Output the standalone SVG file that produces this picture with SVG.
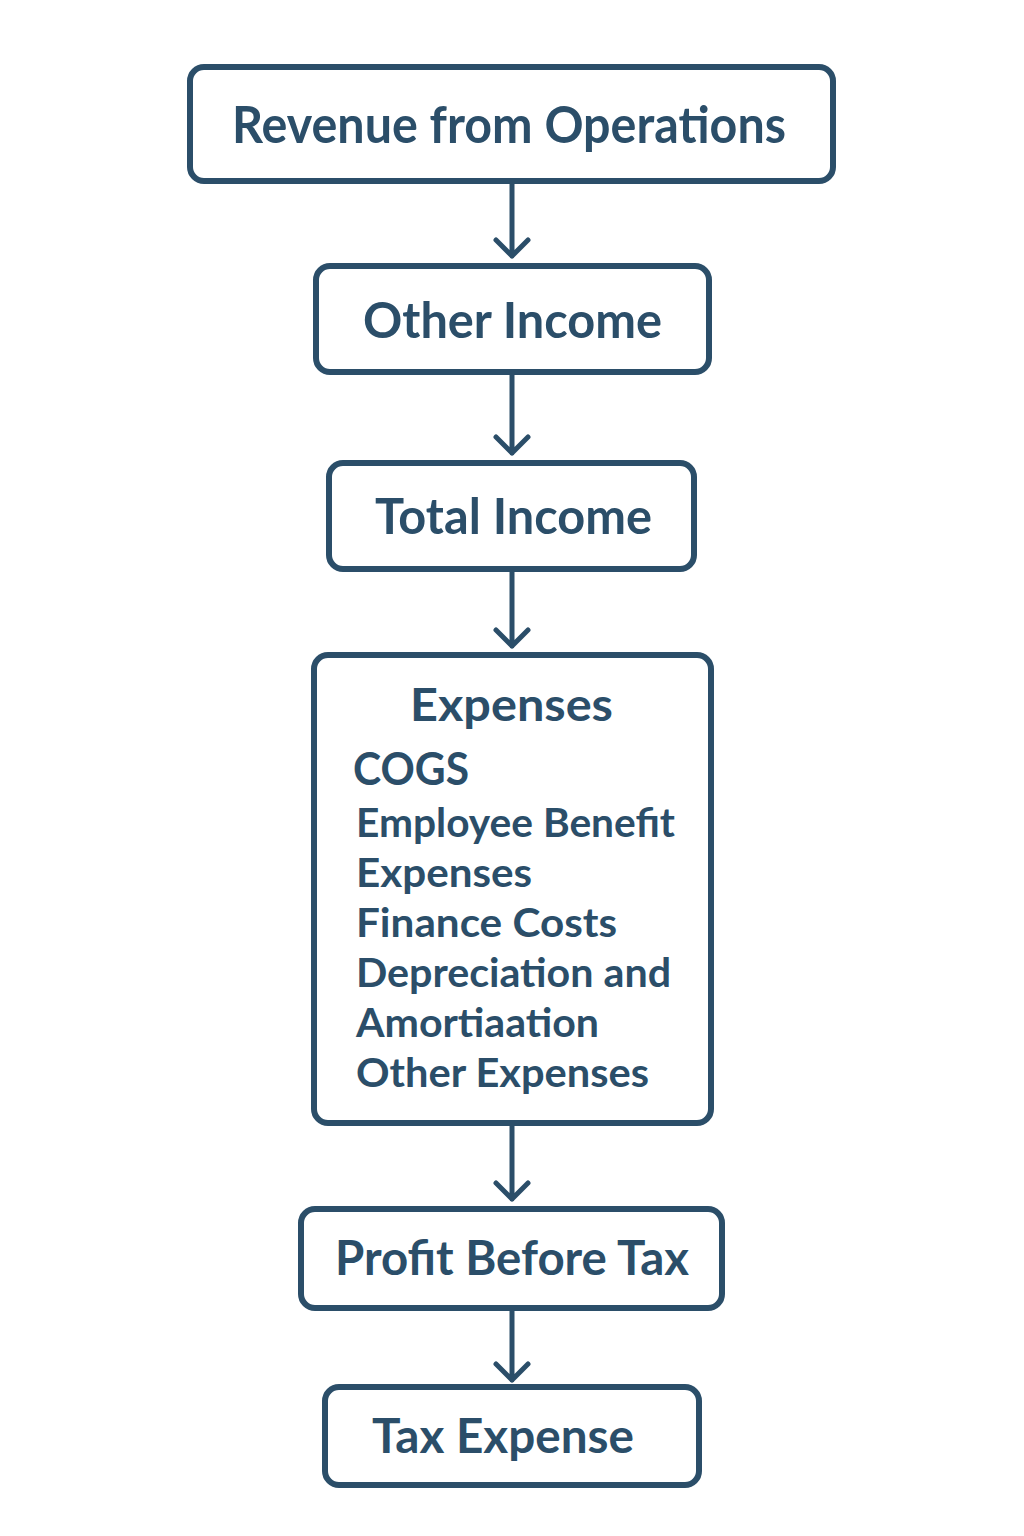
<svg xmlns="http://www.w3.org/2000/svg" width="1024" height="1536" viewBox="0 0 1024 1536">
<style>
.box{fill:#ffffff;stroke:#2b4e69;stroke-width:6}
.lbl{font-family:Lato,"Noto Sans","Liberation Sans",sans-serif;font-weight:700;fill:#2b4e69}
.c{text-anchor:middle}
.con{stroke:#2b4e69;stroke-width:5;fill:none;stroke-linecap:round;stroke-linejoin:round}
</style>
<rect width="1024" height="1536" fill="#ffffff"/>
<g id="connectors">
<path class="con" d="M512 182 V256 M496 240 L512 256 L528 240"/>
<path class="con" d="M512 373 V453 M496 437 L512 453 L528 437"/>
<path class="con" d="M512 570 V646 M496 630 L512 646 L528 630"/>
<path class="con" d="M512 1125 V1199 M496 1183 L512 1199 L528 1183"/>
<path class="con" d="M512 1309 V1380 M496 1364 L512 1380 L528 1364"/>
</g>
<g id="revenue">
<rect class="box" x="190" y="67" width="643" height="114" rx="14"/>
<text class="lbl" x="232" y="143" font-size="52" textLength="554" lengthAdjust="spacingAndGlyphs">Revenue from Operations</text>
</g>
<g id="other-income">
<rect class="box" x="316" y="266" width="393" height="106" rx="14"/>
<text class="lbl" x="363" y="338" font-size="50" textLength="299" lengthAdjust="spacingAndGlyphs">Other Income</text>
</g>
<g id="total-income">
<rect class="box" x="329" y="463" width="365" height="106" rx="14"/>
<text class="lbl" x="375" y="534" font-size="50" textLength="277" lengthAdjust="spacingAndGlyphs">Total Income</text>
</g>
<g id="expenses">
<rect class="box" x="314" y="655" width="397" height="468" rx="14"/>
<text class="lbl" x="410" y="721" font-size="46" textLength="203" lengthAdjust="spacingAndGlyphs">Expenses</text>
<text class="lbl" x="353" y="785" font-size="45" textLength="116" lengthAdjust="spacingAndGlyphs">COGS</text>
<text class="lbl" x="356" y="837" font-size="41" textLength="319" lengthAdjust="spacingAndGlyphs">Employee Benefit</text>
<text class="lbl" x="356" y="887" font-size="41" textLength="176" lengthAdjust="spacingAndGlyphs">Expenses</text>
<text class="lbl" x="356" y="937" font-size="41" textLength="261" lengthAdjust="spacingAndGlyphs">Finance Costs</text>
<text class="lbl" x="356" y="987" font-size="41" textLength="315" lengthAdjust="spacingAndGlyphs">Depreciation and</text>
<text class="lbl" x="356" y="1037" font-size="41" textLength="243" lengthAdjust="spacingAndGlyphs">Amortiaation</text>
<text class="lbl" x="356" y="1087" font-size="41" textLength="293" lengthAdjust="spacingAndGlyphs">Other Expenses</text>
</g>
<g id="profit-before-tax">
<rect class="box" x="301" y="1209" width="421" height="99" rx="14"/>
<text class="lbl" x="335" y="1275" font-size="48" textLength="354" lengthAdjust="spacingAndGlyphs">Profit Before Tax</text>
</g>
<g id="tax-expense">
<rect class="box" x="325" y="1387" width="374" height="98" rx="14"/>
<text class="lbl" x="372" y="1453" font-size="47" textLength="262" lengthAdjust="spacingAndGlyphs">Tax Expense</text>
</g>
</svg>
